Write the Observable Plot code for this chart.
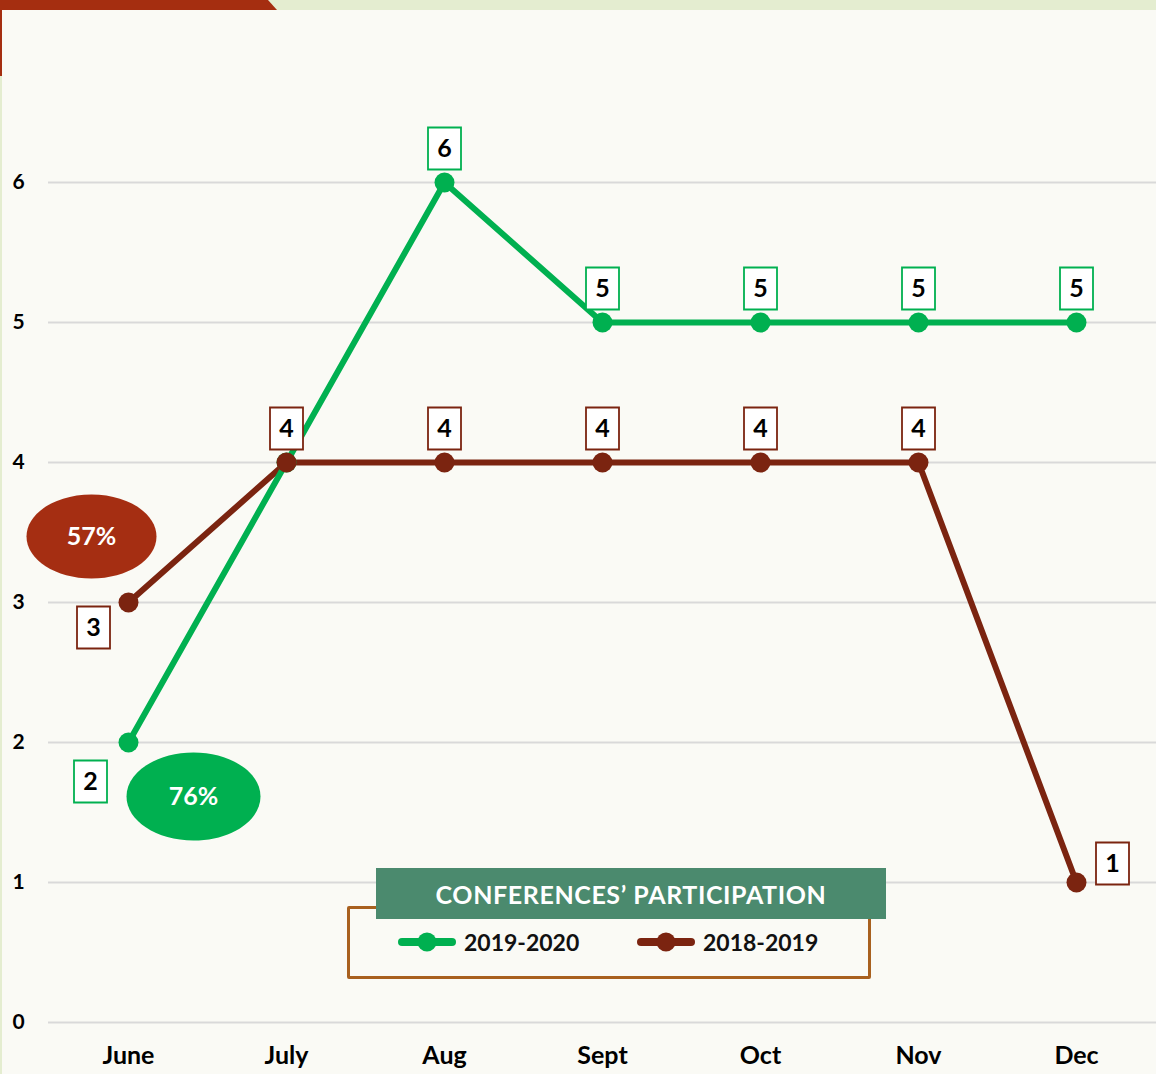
<!DOCTYPE html>
<html>
<head>
<meta charset="utf-8">
<script src="https://cdn.jsdelivr.net/npm/d3@7"></script>
<script src="https://cdn.jsdelivr.net/npm/@observablehq/plot@0.6"></script>
<style>
  html, body { margin: 0; padding: 0; background: #fafaf5; }
  #wrap { position: relative; width: 1156px; height: 1074px; overflow: hidden; background: #fafaf5; font-family: Lato, "DejaVu Sans", sans-serif; }
  #deco { position: absolute; left: 0; top: 0; }
  #chart { position: absolute; left: 0; top: 0; }
  #legend-box { position: absolute; left: 347px; top: 906px; width: 518px; height: 67px; border: 3px solid #a8601e; border-radius: 2px; }
  #legend-head { position: absolute; left: 376px; top: 868px; width: 510px; height: 51px; background: #4b8a6e; color: #fff; font-weight: 700; font-size: 25px; letter-spacing: 0.6px; display: flex; align-items: center; justify-content: center; }
  .leg-item { position: absolute; top: 928px; display: flex; align-items: center; font-weight: 700; font-size: 23px; color: #111; }
  .leg-item svg { margin-right: 8px; }
</style>
</head>
<body>
<div id="wrap">
  <svg id="deco" width="1156" height="1074">
    <rect x="0" y="0" width="1156" height="10" fill="#e4edd0"></rect>
    <polygon points="0,0 268,0 277,10 0,10" fill="#a52e10"></polygon>
    <rect x="0" y="10" width="2" height="66" fill="#a52e10"></rect>
    <rect x="0" y="76" width="2" height="998" fill="#e4edd0"></rect>
  </svg>
  <div id="chart"></div>
  <div id="legend-box"></div>
  <div id="legend-head">CONFERENCES’ PARTICIPATION</div>
  <div id="legend-items"></div>
</div>
<script>
// ---- data ----
const months = ["June", "July", "Aug", "Sept", "Oct", "Nov", "Dec"];
const seriesNames = ["2019-2020", "2018-2019"];
const values2019_2020 = [2, 4, 6, 5, 5, 5, 5];
const values2018_2019 = [3, 4, 4, 4, 4, 4, 1];
const yTicks = [0, 1, 2, 3, 4, 5, 6];
const percentLabels = ["76%", "57%"]; // 2019-2020, 2018-2019
const seriesColors = ["#00b050", "#7b2410"];
const ellipseColors = ["#00b050", "#a52e12"];

const data = [];
months.forEach((m, i) => {
  data.push({month: m, value: values2018_2019[i], series: seriesNames[1], idx: i});
  data.push({month: m, value: values2019_2020[i], series: seriesNames[0], idx: i});
});
const pct = seriesNames.map((s, k) => ({
  month: months[0],
  value: k === 0 ? values2019_2020[0] : values2018_2019[0],
  series: s,
  label: percentLabels[k]
}));

// custom symbols
const boxSymbol = {draw(ctx) { ctx.moveTo(-16.5, -21); ctx.lineTo(16.5, -21); ctx.lineTo(16.5, 21); ctx.lineTo(-16.5, 21); ctx.closePath(); }};
function ellipseSymbol(rx, ry) {
  const k = 0.5523;
  return {draw(ctx) {
    ctx.moveTo(rx, 0);
    ctx.bezierCurveTo(rx, ry * k, rx * k, ry, 0, ry);
    ctx.bezierCurveTo(-rx * k, ry, -rx, ry * k, -rx, 0);
    ctx.bezierCurveTo(-rx, -ry * k, -rx * k, -ry, 0, -ry);
    ctx.bezierCurveTo(rx * k, -ry, rx, -ry * k, rx, 0);
    ctx.closePath();
  }};
}

const isGreen = d => d.series === seriesNames[0];
const aboveLabels = data.filter(d => !(d.idx === 0) && !(d.series === seriesNames[1] && d.idx === 6) && !(isGreen(d) && d.idx === 1));
const greenJune = data.filter(d => isGreen(d) && d.idx === 0);
const brownJune = data.filter(d => !isGreen(d) && d.idx === 0);
const brownDec = data.filter(d => !isGreen(d) && d.idx === 6);

const labelFont = {fontSize: 25, fontWeight: 700, fill: "#000", fontFamily: "Lato, DejaVu Sans, sans-serif"};

const plot = Plot.plot({
  width: 1156,
  height: 1074,
  marginLeft: 48,
  marginRight: 0,
  marginTop: 42,
  marginBottom: 52,
  style: {background: "transparent", fontFamily: "Lato, DejaVu Sans, sans-serif"},
  x: {type: "point", domain: months, padding: 0.5, label: null},
  y: {domain: [0, 7], label: null},
  color: {domain: seriesNames, range: seriesColors},
  marks: [
    Plot.gridY(yTicks, {stroke: "#d9d9d9", strokeOpacity: 1, strokeWidth: 2}),
    Plot.axisY(yTicks, {tickSize: 0, tickPadding: 30, textAnchor: "middle", tickFormat: d => String(d), fontSize: 21, fontWeight: 700, fill: "#000", label: null}),
    Plot.axisX(months, {tickSize: 0, tickPadding: 24, fontSize: 25, fontWeight: 700, fill: "#000", label: null}),
    // percentage ellipses
    Plot.dot(pct.filter(d => d.series === seriesNames[1]), {x: "month", y: "value", symbol: ellipseSymbol(65, 42), fill: ellipseColors[1], stroke: "none", dx: -37, dy: -66}),
    Plot.text(pct.filter(d => d.series === seriesNames[1]), {x: "month", y: "value", text: "label", dx: -37, dy: -66, fill: "#fff", fontSize: 25, fontWeight: 700}),
    Plot.dot(pct.filter(d => d.series === seriesNames[0]), {x: "month", y: "value", symbol: ellipseSymbol(67, 44), fill: ellipseColors[0], stroke: "none", dx: 65, dy: 54}),
    Plot.text(pct.filter(d => d.series === seriesNames[0]), {x: "month", y: "value", text: "label", dx: 65, dy: 54, fill: "#fff", fontSize: 25, fontWeight: 700}),
    // lines
    Plot.line(data.filter(d => !isGreen(d)), {x: "month", y: "value", stroke: "series", strokeWidth: 6}),
    Plot.line(data.filter(isGreen), {x: "month", y: "value", stroke: "series", strokeWidth: 6}),
    Plot.dot(data.filter(isGreen), {x: "month", y: "value", fill: "series", r: 10, stroke: "none"}),
    Plot.dot(data.filter(d => !isGreen(d)), {x: "month", y: "value", fill: "series", r: 10, stroke: "none"}),
    // value label boxes
    Plot.dot(aboveLabels, {x: "month", y: "value", symbol: boxSymbol, fill: "#fff", stroke: "series", strokeWidth: 1.8, dy: -34}),
    Plot.text(aboveLabels, {x: "month", y: "value", text: "value", dy: -34, ...labelFont}),
    Plot.dot(greenJune, {x: "month", y: "value", symbol: boxSymbol, fill: "#fff", stroke: "series", strokeWidth: 1.8, dx: -38, dy: 39}),
    Plot.text(greenJune, {x: "month", y: "value", text: "value", dx: -38, dy: 39, ...labelFont}),
    Plot.dot(brownJune, {x: "month", y: "value", symbol: boxSymbol, fill: "#fff", stroke: "series", strokeWidth: 1.8, dx: -35, dy: 25}),
    Plot.text(brownJune, {x: "month", y: "value", text: "value", dx: -35, dy: 25, ...labelFont}),
    Plot.dot(brownDec, {x: "month", y: "value", symbol: boxSymbol, fill: "#fff", stroke: "series", strokeWidth: 1.8, dx: 36, dy: -19}),
    Plot.text(brownDec, {x: "month", y: "value", text: "value", dx: 36, dy: -19, ...labelFont})
  ]
});
document.getElementById("chart").appendChild(plot);

// legend items
const lefts = [398, 637];
const items = document.getElementById("legend-items");
seriesNames.forEach((s, k) => {
  const div = document.createElement("div");
  div.className = "leg-item";
  div.style.left = lefts[k] + "px";
  div.innerHTML = `<svg width="58" height="28"><line x1="4" y1="14" x2="54" y2="14" stroke="${seriesColors[k]}" stroke-width="8" stroke-linecap="round"></line><circle cx="29" cy="14" r="9.5" fill="${seriesColors[k]}"></circle></svg><span>${s}</span>`;
  items.appendChild(div);
});
</script>
</body>
</html>
